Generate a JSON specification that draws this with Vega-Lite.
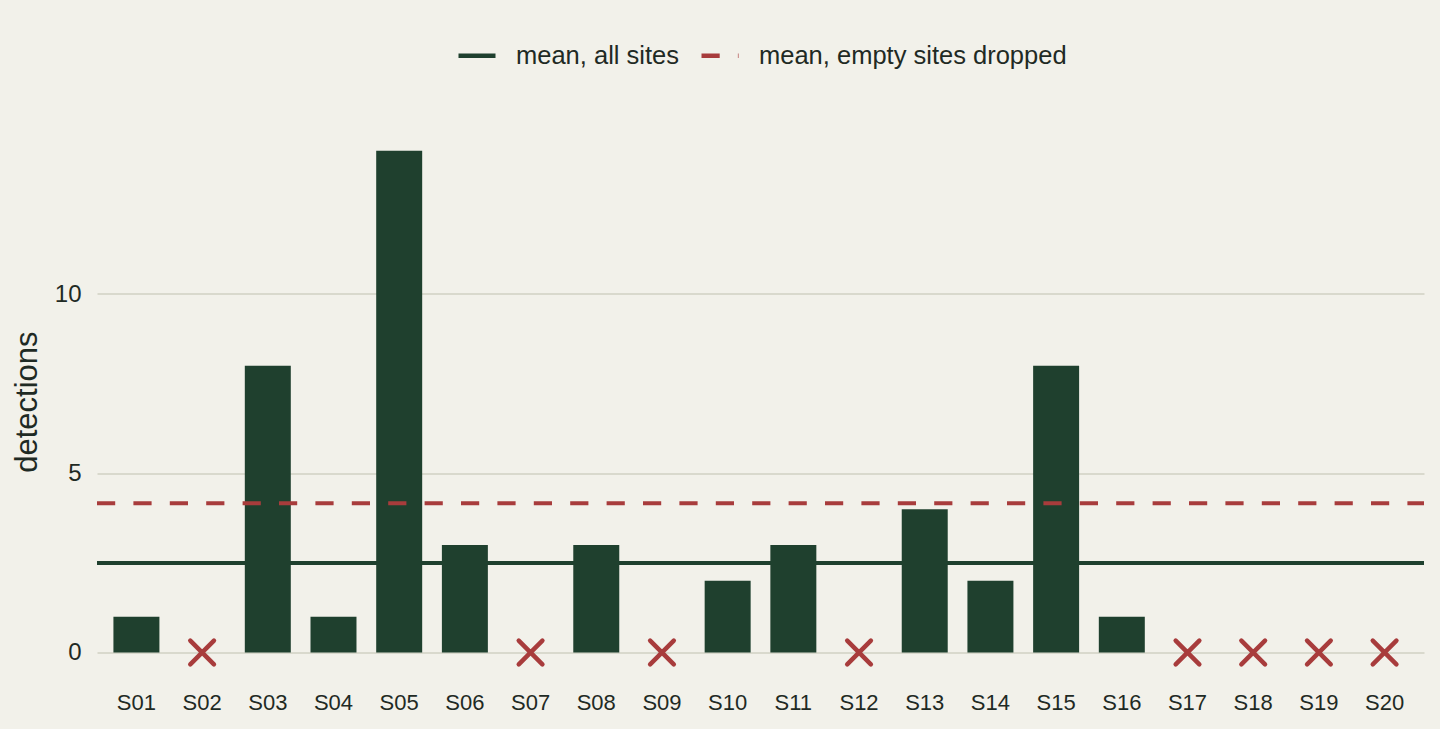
{
  "$schema": "https://vega.github.io/schema/vega-lite/v6.json",
  "description": "Detections per site with two mean lines",
  "width": 1327,
  "height": 552,
  "autosize": {"type": "none"},
  "padding": {"left": 97, "top": 125.6, "right": 16, "bottom": 51.4},
  "background": "#f2f1ea",
  "datasets": {
    "sites": [
      {"site": "S01", "detections": 1},
      {"site": "S02", "detections": 0},
      {"site": "S03", "detections": 8},
      {"site": "S04", "detections": 1},
      {"site": "S05", "detections": 14},
      {"site": "S06", "detections": 3},
      {"site": "S07", "detections": 0},
      {"site": "S08", "detections": 3},
      {"site": "S09", "detections": 0},
      {"site": "S10", "detections": 2},
      {"site": "S11", "detections": 3},
      {"site": "S12", "detections": 0},
      {"site": "S13", "detections": 4},
      {"site": "S14", "detections": 2},
      {"site": "S15", "detections": 8},
      {"site": "S16", "detections": 1},
      {"site": "S17", "detections": 0},
      {"site": "S18", "detections": 0},
      {"site": "S19", "detections": 0},
      {"site": "S20", "detections": 0}
    ],
    "means": [
      {"series": "mean, all sites", "value": 2.5},
      {"series": "mean, empty sites dropped", "value": 4.1667}
    ]
  },
  "encoding": {
    "x": {
      "field": "site",
      "type": "nominal",
      "scale": {
        "domain": ["S01", "S02", "S03", "S04", "S05", "S06", "S07", "S08", "S09", "S10",
                   "S11", "S12", "S13", "S14", "S15", "S16", "S17", "S18", "S19", "S20"],
        "paddingInner": 0.3,
        "paddingOuter": 0.25
      },
      "axis": {
        "title": null,
        "labelAngle": 0,
        "domain": false,
        "ticks": false,
        "labelFontSize": 22,
        "labelPadding": 15
      }
    }
  },
  "layer": [
    {
      "data": {"name": "sites"},
      "transform": [{"filter": "datum.detections > 0"}],
      "mark": {"type": "bar", "color": "#1f402e"},
      "encoding": {
        "y": {
          "field": "detections",
          "type": "quantitative",
          "scale": {"domain": [-0.7, 14.7], "nice": false, "zero": false},
          "axis": {
            "values": [0, 5, 10],
            "title": "detections",
            "titleFontSize": 31,
            "titleFontWeight": "normal",
            "titlePadding": 11,
            "labelFontSize": 24,
            "labelPadding": 16,
            "domain": false,
            "ticks": false,
            "grid": true,
            "gridColor": "#d1d1c3",
            "gridWidth": 1.5
          }
        },
        "y2": {"datum": 0}
      }
    },
    {
      "data": {"name": "sites"},
      "transform": [{"filter": "datum.detections == 0"}],
      "mark": {
        "type": "point",
        "shape": "M-1,-1L1,1M1,-1L-1,1",
        "size": 560,
        "filled": false,
        "stroke": "#a83c3c",
        "strokeWidth": 4.5,
        "strokeCap": "round",
        "opacity": 1
      },
      "encoding": {
        "y": {"field": "detections", "type": "quantitative"}
      }
    },
    {
      "data": {"name": "means"},
      "mark": {"type": "rule", "strokeWidth": 4},
      "encoding": {
        "x": {"value": 0},
        "x2": {"value": "width"},
        "y": {"field": "value", "type": "quantitative"},
        "color": {
          "field": "series",
          "type": "nominal",
          "scale": {
            "domain": ["mean, all sites", "mean, empty sites dropped"],
            "range": ["#1f402e", "#a83c3c"]
          },
          "legend": {
            "title": null,
            "orient": "none",
            "direction": "horizontal",
            "legendX": 359,
            "legendY": -91,
            "symbolType": "stroke",
            "symbolSize": 1369,
            "symbolStrokeWidth": 4.5,
            "labelFontSize": 25.5,
            "labelOffset": 18,
            "labelLimit": 600,
            "columnPadding": 13
          }
        },
        "strokeDash": {
          "field": "series",
          "type": "nominal",
          "scale": {
            "domain": ["mean, all sites", "mean, empty sites dropped"],
            "range": [[1, 0], [18.2, 18.2]]
          },
          "legend": {
            "title": null,
            "orient": "none",
            "direction": "horizontal",
            "legendX": 359,
            "legendY": -91,
            "symbolType": "stroke",
            "symbolSize": 1369,
            "symbolStrokeWidth": 4.5,
            "labelFontSize": 25.5,
            "labelOffset": 18,
            "labelLimit": 600,
            "columnPadding": 13
          }
        }
      }
    }
  ],
  "config": {
    "font": "Liberation Sans",
    "view": {"stroke": null},
    "axis": {"labelColor": "#1f2a24", "titleColor": "#1f2a24"},
    "legend": {"labelColor": "#1f2a24"}
  }
}
